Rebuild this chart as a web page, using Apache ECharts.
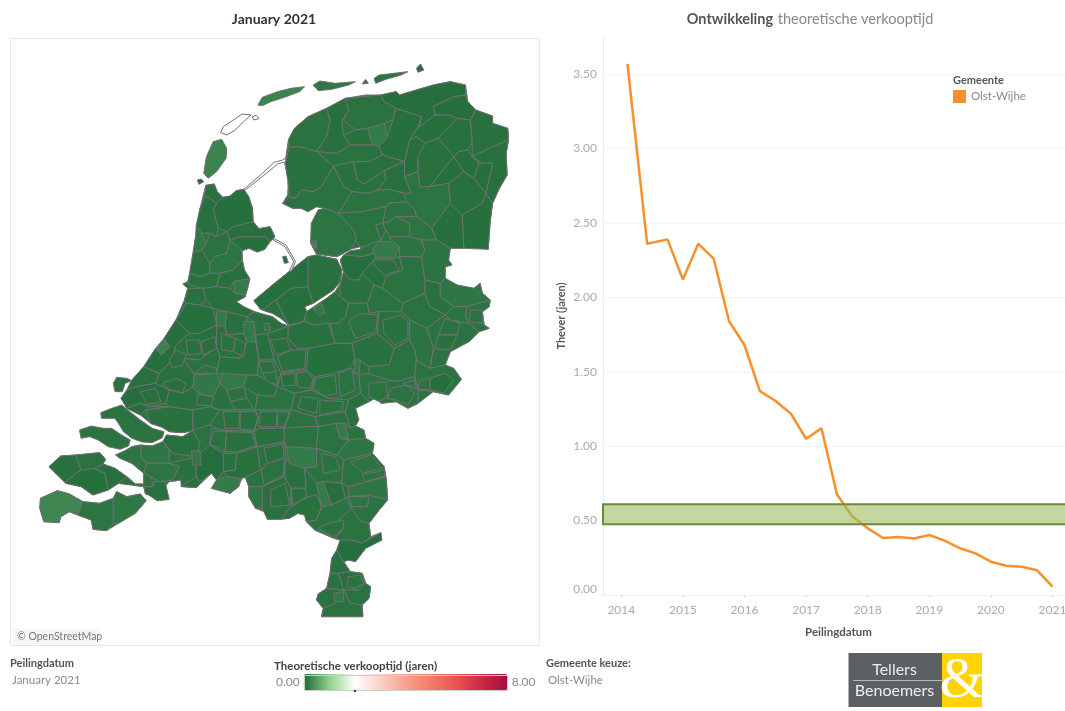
<!DOCTYPE html>
<html lang="nl">
<head>
<meta charset="UTF-8">
<title>Theoretische verkooptijd</title>
<script src="https://cdn.jsdelivr.net/npm/echarts@6/dist/echarts.min.js"></script>
<style>
  html, body { margin: 0; padding: 0; background: #fff; }
  /* the source is a soft screenshot */
  #chart { width: 1065px; height: 711px; filter: blur(0.4px); }
</style>
</head>
<body>
<div id="chart"></div>
<script>
// line chart: peildatum as decimal year, thever in jaren
var dates = [2014.1, 2014.42, 2014.75, 2015, 2015.25, 2015.5, 2015.75, 2016, 2016.25, 2016.5, 2016.75, 2017, 2017.25, 2017.5,
  2017.75, 2018, 2018.25, 2018.5, 2018.75, 2019, 2019.25, 2019.5, 2019.75, 2020, 2020.25, 2020.5, 2020.75, 2021];
var thever = [3.57, 2.36, 2.39, 2.12, 2.36, 2.26, 1.84, 1.68, 1.37, 1.305, 1.22, 1.05, 1.12, 0.677,
  0.527, 0.448, 0.383, 0.39, 0.38, 0.403, 0.365, 0.314, 0.28, 0.224, 0.197, 0.19, 0.166, 0.056];
var yearTicks = [2014, 2015, 2016, 2017, 2018, 2019, 2020, 2021];
var theverTicks = [0, 0.5, 1, 1.5, 2, 2.5, 3, 3.5];
var bandRange = [0.475, 0.61];

// map: traced outlines, x,y pairs in a 3x copy of the map panel (y down)
var regionShapes = [
  // land masses, drawn first
  '578,436 603,432 612,455 628,472 650,468 668,452 690,448 705,470 716,505 718,545 735,566 768,560 782,590 768,605 752,628 730,636 706,625 685,632 686,660 692,690 708,716 702,740 695,770 668,785 690,800 722,815 745,822 775,830 800,850 822,858 860,848 875,832 878,815 905,795 935,775 960,755 975,730 985,695 975,660 1000,642 1035,628 1035,620 1005,628 975,645 965,650 905,642 888,610 890,550 910,510 930,505 905,500 880,515 860,505 835,505 805,490 820,465 822,420 812,370 822,300 840,265 880,230 935,205 990,175 1050,165 1095,165 1140,155 1150,165 1200,150 1250,135 1300,125 1345,135 1352,185 1375,210 1425,228 1425,250 1470,265 1472,300 1465,340 1468,405 1445,445 1425,490 1418,545 1412,628 1390,620 1300,625 1295,660 1305,675 1285,680 1285,715 1320,735 1370,745 1388,730 1395,760 1418,780 1415,800 1395,815 1400,855 1415,865 1385,875 1355,905 1300,935 1285,975 1310,985 1333,1018 1295,1065 1250,1055 1205,1090 1175,1105 1140,1085 1095,1090 1085,1070 1060,1085 1020,1105 1030,1140 1020,1158 1045,1170 1050,1195 1075,1210 1070,1240 1105,1280 1112,1330 1115,1380 1090,1410 1060,1450 1065,1490 1095,1478 1098,1500 1050,1525 1020,1565 1000,1560 985,1565 1005,1595 1040,1600 1050,1630 1065,1640 1060,1675 1040,1695 1042,1730 920,1730 925,1705 905,1680 910,1662 935,1645 945,1600 950,1555 965,1530 975,1500 955,1495 900,1470 875,1445 870,1425 850,1420 825,1435 760,1438 750,1415 725,1405 705,1370 705,1340 695,1312 685,1315 675,1340 650,1360 595,1345 610,1320 595,1300 560,1325 550,1343 510,1340 505,1320 470,1325 458,1340 470,1378 435,1382 410,1365 400,1362 395,1340 360,1335 320,1330 290,1350 245,1365 210,1340 165,1330 115,1280 150,1248 195,1245 265,1238 282,1258 275,1272 310,1285 345,1310 370,1332 395,1332 395,1300 360,1270 325,1255 312,1245 340,1232 360,1220 385,1215 420,1218 452,1205 462,1185 510,1190 540,1172 510,1178 470,1175 450,1162 415,1150 385,1125 345,1105 328,1075 345,1050 360,1020 395,980 430,925 455,895 490,840 515,780 525,745 510,732 525,725 535,690 548,590 560,510',
  '720,782 775,735 830,690 880,650 905,645 965,658 980,690 975,725 955,750 925,770 895,790 870,800 878,820 865,845 822,855 800,835 775,820 740,808',
  '90,1375 140,1352 175,1362 215,1385 265,1390 305,1375 315,1355 345,1370 385,1362 402,1382 370,1420 320,1450 285,1472 245,1468 240,1440 200,1425 175,1415 150,1430 145,1448 100,1445 88,1405',
  '268,1118 300,1105 330,1095 350,1112 385,1140 420,1165 455,1175 450,1193 420,1208 390,1206 360,1195 335,1175 320,1150 310,1135 270,1135',
  '205,1170 240,1158 275,1165 300,1165 330,1185 355,1200 350,1218 325,1228 290,1220 260,1200 235,1190 210,1195',
  '305,1030 315,1012 345,1015 360,1022 340,1030 332,1055 310,1055',
  // waddeneilanden
  '572,400 580,350 600,305 625,298 640,325 638,355 610,395 585,415',
  '553,420 565,417 572,425 558,433',
  '732,195 745,172 790,155 830,145 870,140 855,155 810,172 770,185 745,197',
  '895,135 915,123 960,130 1020,125 1000,135 950,148 910,152',
  '1040,132 1050,118 1058,130',
  '1075,115 1090,105 1175,95 1155,105 1110,118 1080,130',
  '1200,85 1212,72 1222,90 1205,97',
  '805,650 815,648 822,668 810,670',
  // groningen, friesland
  '822,300 840,265 880,230 935,205 945,240 935,290 905,335 855,320 825,322',
  '935,205 990,175 1000,210 980,245 985,285 1005,315 965,340 905,335 935,290 945,240',
  '990,175 1095,165 1105,185 1140,205 1130,240 1105,250 1055,265 1020,270 985,240 1000,210',
  '1055,265 1105,250 1115,290 1090,320 1072,315',
  '985,285 1020,270 1055,265 1072,315 1005,315',
  '1090,320 1115,290 1130,240 1140,205 1215,230 1205,260 1180,300 1165,365 1100,345',
  '825,322 855,320 905,335 955,378 920,440 895,455 860,450 845,475 825,470 820,420 812,370',
  '905,335 965,340 1005,315 1072,315 1090,320 1100,345 1060,365 1015,365 955,378',
  '955,378 1015,365 1025,420 1045,432 1105,392 1110,420 1085,450 1060,460 1010,455 985,440',
  '1015,365 1060,365 1100,345 1165,365 1105,392 1045,432 1025,420',
  '805,490 825,470 845,475 860,450 895,455 920,440 955,378 985,440 1010,455 970,520 930,505 905,500 880,515 860,505 835,505',
  '1010,455 1060,460 1085,450 1120,448 1165,460 1170,485 1120,490 1110,500 1040,515 970,520',
  '1105,392 1165,365 1165,410 1185,460 1165,460 1120,448 1085,450 1110,420',
  '930,505 970,520 1015,570 1022,590 1020,605 1005,628 975,645 965,650 905,642 888,610 890,550 910,510',
  '888,603 905,603 905,625 895,625',
  '1140,155 1150,165 1200,150 1250,135 1300,125 1345,135 1345,165 1310,170 1250,200 1255,225 1210,260 1215,230 1140,205 1105,185 1095,165',
  '1345,165 1352,185 1375,210 1360,240 1320,235 1295,225 1255,225 1250,200 1310,170',
  '1255,225 1295,225 1320,235 1265,295 1225,310 1200,290 1180,300 1205,260 1210,260',
  '1320,235 1360,240 1365,310 1350,330 1325,335 1310,350 1265,295',
  '1360,240 1375,210 1425,228 1425,250 1470,265 1472,300 1415,325 1365,350 1365,310',
  // drenthe
  '1325,335 1350,330 1365,350 1385,370 1370,415 1340,395 1310,350',
  '1415,325 1472,300 1465,340 1468,405 1445,445 1425,490 1405,460 1425,370 1395,370 1365,350',
  '1395,370 1425,370 1405,460 1370,415 1385,370',
  '1180,300 1200,290 1225,310 1205,350 1205,395 1165,410 1165,365',
  '1225,310 1265,295 1310,350 1240,440 1210,440 1205,395 1205,350',
  '1310,350 1340,395 1295,430 1240,440',
  '1340,395 1370,415 1405,460 1395,490 1335,525 1300,490 1295,430',
  '1405,460 1425,490 1418,545 1412,628 1340,625 1335,525 1395,490',
  '1165,410 1205,395 1210,440 1240,440 1295,430 1300,490 1245,565 1215,540 1200,530 1195,510 1170,485 1165,460 1185,460',
  '1300,490 1335,525 1340,625 1300,625 1260,600 1245,565',
  '1120,490 1170,485 1195,510 1200,530 1140,530 1120,545 1100,550 1110,500',
  '1200,530 1215,540 1245,565 1260,600 1215,600 1180,590 1180,550 1140,530',
  '970,520 1040,515 1110,500 1100,550 1080,555 1095,600 1040,622 1020,605 1022,590 1015,570',
  '1080,555 1100,550 1110,570 1095,600',
  '1120,545 1140,530 1180,550 1180,590 1120,590 1110,570 1100,550',
  // overijssel
  '1070,625 1090,605 1130,605 1150,620 1135,655 1080,655',
  '1040,622 1095,600 1090,605 1070,625 1075,640 1040,650 985,645 1005,632 1035,628',
  '1150,620 1130,605 1120,590 1180,590 1215,600 1225,630 1215,650 1150,650',
  '1215,600 1260,600 1300,625 1295,660 1305,675 1285,680 1285,715 1270,730 1225,720 1215,650 1225,630',
  '985,645 1040,650 1075,640 1080,655 1040,700 1030,720 1005,720 985,695 975,660',
  '1080,655 1135,655 1150,650 1160,690 1110,710 1100,745 1075,735 1040,700',
  '1150,650 1215,650 1225,720 1225,760 1160,790 1100,745 1110,710 1160,690',
  '1285,715 1320,735 1370,745 1388,730 1395,760 1418,780 1350,800 1310,800 1270,770 1270,730',
  '1418,780 1415,800 1395,815 1400,855 1415,865 1385,875 1355,850 1345,830 1350,800',
  '1225,720 1270,730 1270,770 1310,800 1285,825 1240,800 1225,760',
  '1310,800 1350,800 1345,830 1355,850 1300,840 1285,825',
  '1385,875 1355,905 1300,935 1285,975 1240,985 1250,925 1230,865 1285,825 1300,840 1355,850',
  '1160,790 1225,760 1240,800 1285,825 1230,865 1180,840 1155,815',
  '1100,745 1160,790 1155,815 1090,815 1060,820 1055,790 1075,735',
  '985,695 1005,720 1030,720 1040,700 1075,735 1055,790 1000,790 975,770 975,730',
  // flevoland
  '880,650 905,645 965,658 980,690 975,725 955,750 925,770 895,790 880,740',
  '720,782 775,735 830,690 880,650 880,740 830,745 785,780 745,810 740,808',
  '785,780 830,745 880,740 895,790 870,800 878,820 865,845 822,855',
  '745,810 785,780 822,855 800,835 775,820',
  // gelderland
  '875,815 905,795 935,775 960,755 975,770 1000,790 990,830 970,850 940,850 895,855 870,845',
  '895,805 920,790 930,820 910,825',
  '990,830 1000,790 1055,790 1060,820 1090,815 1085,880 1010,910 960,910 945,850 970,850',
  '1090,815 1155,815 1180,840 1180,900 1135,925 1085,880',
  '1180,840 1230,865 1250,925 1240,985 1200,960 1195,930 1180,900',
  '880,925 960,910 1010,910 1020,965 1000,985 960,1000 900,1010 875,990',
  '1010,910 1085,880 1135,925 1120,975 1060,980 1030,960 1020,965',
  '1015,960 1035,960 1030,1005 1015,1000',
  '1135,925 1180,900 1195,930 1200,960 1195,1010 1140,1025 1100,1015 1060,1000 1060,980 1120,975',
  '1200,960 1240,985 1285,975 1310,985 1333,1018 1295,1065 1250,1055 1205,1050 1195,1010',
  '1060,1000 1100,1015 1140,1025 1195,1010 1205,1050 1205,1090 1175,1105 1140,1085 1095,1090 1085,1070 1060,1085 1035,1060 1030,1005',
  '822,858 870,845 895,855 940,850 960,910 880,925 850,925 820,895',
  '760,880 822,858 820,895 850,925 880,925 875,990 800,1000 780,960',
  // noord-holland
  '578,436 603,432 612,455 628,472 610,490 590,475 575,470',
  '628,472 650,468 668,452 690,448 705,470 716,505 718,545 660,560 640,575 615,565 600,510 610,490',
  '575,470 590,475 610,490 600,510 615,565 610,590 590,580 565,580 550,555 560,510',
  '550,555 565,580 580,610 565,630 540,640 548,590',
  '640,575 660,560 718,545 735,566 768,560 782,590 768,605 752,590 680,590 650,600',
  '680,590 752,590 768,605 752,628 730,636 706,625 685,632 650,600',
  '565,630 580,610 590,580 610,590 640,575 650,600 640,640 605,650 590,670',
  '590,670 605,650 640,640 650,600 685,632 686,660 660,690 620,700 590,700',
  '540,640 565,630 590,670 590,700 560,710 530,700',
  '620,700 660,690 686,660 692,690 708,716 660,725 650,745 610,740',
  '660,725 708,716 702,745 695,765 665,760',
  '530,700 560,710 590,700 620,700 610,740 570,745 535,735 525,725',
  '525,745 570,745 580,780 560,795 520,790 515,780',
  '570,745 610,740 650,745 665,760 695,765 695,770 668,785 690,800 722,815 700,830 640,815 600,805 580,780',
  '520,790 560,795 600,805 610,855 560,880 530,880 490,840',
  '610,815 640,815 635,860 610,855',
  '640,815 700,830 690,880 640,885 635,860',
  '690,845 720,845 725,905 700,905 690,880',
  '722,815 745,822 775,830 800,850 822,858 760,880 725,885 720,845 700,830',
  '750,850 765,850 768,870 752,872',
  // zuid-holland, utrecht
  '490,840 530,880 490,915 480,960 440,1000 395,980 430,925 447,945 472,920 455,895',
  '432,925 455,900 472,920 447,945',
  '395,980 440,1000 430,1030 375,1040 345,1050 360,1020',
  '530,880 560,880 610,855 610,920 560,960 510,955 480,960 490,915',
  '610,855 635,860 640,885 690,880 700,905 680,955 620,950 610,920',
  '440,1000 480,960 510,955 545,1005 540,1040 510,1060 470,1050 430,1030',
  '545,1005 610,1000 620,1030 600,1070 555,1060 540,1040',
  '375,1040 430,1030 470,1050 460,1090 410,1100 385,1090 345,1105 328,1075 345,1050',
  '510,955 560,960 610,920 620,950 610,1000 545,1005',
  '625,1000 700,1005 690,1040 640,1050 620,1030',
  '620,950 680,955 700,905 725,905 735,960 730,1005 700,1005 625,1000 610,1000',
  '400,1110 470,1100 540,1110 540,1172 510,1178 470,1175 450,1162 415,1150',
  '345,1105 385,1090 410,1100 470,1100 400,1110 385,1125',
  '470,1050 510,1060 540,1040 555,1060 600,1070 590,1100 540,1110 470,1100 460,1090',
  '600,1070 620,1030 640,1050 690,1040 730,1065 725,1110 620,1110 590,1100',
  '540,1110 590,1100 620,1110 600,1150 545,1170 540,1172',
  '725,885 760,880 780,960 735,960',
  '735,960 780,960 800,1000 790,1040 730,1005',
  '730,1005 790,1040 780,1070 730,1065 690,1040 700,1005',
  '800,1000 875,990 900,1010 890,1050 840,1060 790,1040',
  '790,1040 840,1060 830,1110 725,1110 730,1065 780,1070',
  '900,1010 960,1000 1000,985 1020,965 1015,1000 1030,1005 1035,1060 1000,1080 940,1075 890,1050',
  '840,1060 890,1050 940,1075 1000,1080 990,1115 900,1130 830,1110',
  '620,1110 725,1110 735,1135 720,1175 625,1170 590,1155',
  '725,1110 830,1110 810,1165 735,1165 720,1175 735,1135',
  '830,1110 900,1130 910,1160 885,1160 810,1165',
  '900,1130 990,1115 1005,1165 990,1150 962,1150 910,1160',
  '990,1115 1000,1080 1035,1060 1060,1085 1020,1105 1030,1140 1020,1158 1005,1165',
  // noord-brabant, limburg
  '462,1185 510,1190 540,1172 560,1210 550,1250 480,1240 452,1205',
  '385,1215 420,1218 452,1205 470,1230 470,1270 405,1270 388,1255',
  '340,1232 360,1220 385,1215 388,1255 405,1270 395,1300 360,1270 325,1255 312,1245',
  '405,1270 470,1270 500,1280 480,1320 440,1325 415,1310 395,1300',
  '395,1300 415,1310 425,1340 395,1340 395,1332',
  '425,1325 458,1325 470,1378 435,1382 410,1365 400,1362 395,1340 425,1340',
  '470,1270 550,1250 550,1310 505,1340 505,1320 470,1325 480,1320 500,1280',
  '505,1340 550,1310 560,1325 585,1300 595,1300 550,1343 510,1340',
  '550,1250 590,1215 630,1240 630,1295 610,1320 595,1300 560,1325 550,1310',
  '535,1232 560,1232 565,1275 540,1275',
  '590,1215 595,1165 620,1170 720,1175 730,1220 670,1240 630,1240',
  '630,1240 670,1240 665,1290 630,1295',
  '610,1320 640,1310 680,1315 675,1340 650,1360 595,1345',
  '670,1240 730,1220 740,1290 695,1312 680,1315 640,1310 630,1295 665,1290',
  '730,1220 810,1205 815,1255 810,1310 745,1340 705,1340 695,1312 740,1290',
  '705,1340 745,1340 745,1405 725,1405 705,1370',
  '745,1340 810,1310 830,1345 830,1400 800,1438 760,1438 750,1415 745,1405',
  '720,1175 735,1165 810,1165 810,1205 730,1220',
  '815,1220 905,1225 905,1280 870,1285 825,1270',
  '810,1165 885,1160 910,1160 905,1225 815,1220 810,1205',
  '910,1160 962,1150 975,1195 1000,1200 965,1245 905,1225',
  '962,1150 990,1150 1000,1195 975,1195',
  '1005,1165 1020,1158 1045,1170 1050,1195 1000,1200 990,1150',
  '965,1245 1000,1200 1050,1195 1075,1210 1070,1240 985,1260',
  '905,1280 905,1225 965,1245 985,1260 980,1330 925,1325 905,1330 870,1285',
  '985,1260 1070,1240 1105,1280 1110,1310 1000,1340 980,1330',
  '1000,1340 1110,1310 1112,1330 1115,1380 1060,1365 1000,1370',
  '810,1310 815,1255 825,1270 870,1285 875,1345 830,1345',
  '870,1285 905,1330 920,1400 905,1365 880,1370 830,1400 830,1345 875,1345',
  '905,1330 925,1325 950,1395 920,1400',
  '925,1325 980,1330 990,1375 950,1395',
  '990,1375 1000,1370 1060,1365 1115,1380 1090,1410 1060,1450 1035,1445 1010,1405',
  '830,1400 880,1370 905,1365 920,1400 905,1440 875,1445 870,1425 850,1420 825,1435 800,1438',
  '905,1440 920,1400 950,1395 990,1375 1010,1405 975,1435 985,1465 960,1495 900,1470 875,1445',
  '985,1465 975,1435 1010,1405 1035,1445 1060,1450 1065,1490 1040,1510 1010,1500 975,1500 960,1495',
  '975,1500 1010,1500 1040,1510 1095,1478 1098,1500 1050,1525 1020,1565 1000,1560 985,1565 965,1530',
  '950,1555 965,1530 985,1565 1005,1595 970,1600 945,1600',
  '945,1600 970,1600 985,1650 935,1645',
  '970,1600 1005,1595 1040,1600 1050,1630 1030,1650 985,1650',
  '1030,1650 1050,1630 1065,1640 1060,1675 1040,1695 1005,1690 985,1650',
  '935,1645 985,1650 960,1690 925,1705 905,1680 910,1662',
  '925,1705 960,1690 985,1650 1005,1690 1040,1695 1042,1730 920,1730',
  '955,1660 985,1655 985,1685 960,1685',
  // zeeland
  '115,1280 150,1248 195,1245 210,1290 170,1320 165,1330',
  '195,1245 265,1238 282,1258 275,1272 250,1285 210,1290',
  '170,1320 210,1290 250,1285 280,1300 290,1350 245,1365 210,1340 165,1330',
  '275,1272 310,1285 345,1310 320,1330 290,1350 280,1300 250,1285',
  '320,1330 345,1310 370,1332 395,1332 395,1340 360,1335',
  '90,1375 140,1352 175,1362 215,1385 200,1425 175,1415 150,1430 145,1448 100,1445 88,1405',
  '215,1385 265,1390 305,1375 305,1450 285,1472 245,1468 240,1440 200,1425',
  '305,1375 315,1355 345,1370 385,1362 402,1382 370,1420 320,1450 305,1450',
  // kleine gemeenten in de dichtbevolkte delen
  '470,960 490,930 520,945 510,975 480,985',
  '520,900 560,900 565,940 525,945',
  '565,905 605,890 610,925 570,945',
  '625,880 665,895 660,935 625,930',
  '665,895 695,910 690,950 660,935',
  '545,1000 575,975 610,985 608,1000',
  '450,1030 490,1015 520,1030 510,1058 470,1048',
  '385,1055 430,1045 445,1085 405,1095',
  '555,1062 600,1072 595,1098 550,1095',
  '640,1050 690,1040 700,1075 650,1085',
  '650,1085 700,1075 720,1108 665,1108',
  '735,965 775,965 785,995 745,1000',
  '745,1000 785,995 790,1035 760,1025',
  '800,1005 840,1000 845,1035 805,1038',
  '845,1000 878,995 895,1015 885,1045 850,1040',
  '770,900 815,895 830,930 785,945',
  '830,930 875,930 870,985 805,995 790,950',
  '905,1015 960,1005 965,1060 930,1068 895,1045',
  '970,1000 1010,985 1020,1050 975,1070',
  '860,1070 910,1075 905,1120 850,1105',
  '915,1080 985,1085 980,1112 915,1125',
  '740,1115 790,1115 785,1160 735,1160',
  '790,1115 825,1115 810,1160 790,1160',
  '630,1115 680,1115 675,1165 635,1165',
  '680,1115 725,1115 732,1135 720,1170 680,1168',
  '600,1175 640,1175 635,1235 590,1212',
  '640,1175 715,1178 725,1218 668,1236 635,1235',
  '750,1225 805,1212 810,1255 760,1270',
  '760,1270 810,1255 808,1305 750,1335 742,1290',
  '830,1345 872,1345 876,1370 835,1395',
  '770,1350 812,1330 826,1395 770,1400',
  '1005,1265 1065,1245 1098,1285 1040,1300',
  '1040,1305 1105,1290 1108,1308 1050,1325',
  '920,1240 960,1250 975,1290 925,1300',
  '1000,1370 1060,1370 1055,1400 1010,1400',
  '940,1450 985,1440 985,1465 955,1490 910,1465',
  '1000,1610 1035,1605 1045,1630 1020,1645 995,1640',
  '1125,1045 1170,1035 1195,1060 1175,1095 1140,1080 1115,1075',
  '1060,1030 1110,1025 1115,1070 1090,1085 1060,1070',
  '1160,1030 1195,1020 1200,1048 1170,1035',
  '1240,1015 1285,1000 1310,1020 1280,1060 1240,1050',
  '1210,1020 1240,1015 1240,1050 1205,1048',
  '1285,835 1330,850 1320,885 1265,885',
  '1265,885 1320,885 1300,930 1255,925',
  '1360,810 1393,810 1395,850 1355,845',
  '1100,840 1155,825 1175,845 1175,895 1135,915 1105,880',
  '1030,820 1085,825 1080,875 1020,895 1000,845',
  '1070,660 1130,660 1150,690 1105,705 1080,680',
  // geen cijfer: vlieland en de dijken
  '622,278 630,260 660,240 685,222 712,225 690,245 665,270 640,285',
  '715,230 728,226 735,236 720,240',
  '690,448 740,405 780,367 805,360 812,355 815,365 790,372 745,410 695,450',
  '778,595 815,615 843,665 830,695 826,690 838,665 812,620 778,600'
];
var regionValues = [
  0.12, 0.12, 0.13, 0.13, 0.13, 0.12,
  0.28, 0.1, 0.28, 0.16, 0.1, 0.14, 0.08, 0.08,
  0.12, 0.1, 0.12, 0.2, 0.11, 0.09, 0.11, 0.12, 0.11, 0.1, 0.12, 0.13, 0.1, 0.14, 0.3, 0.08, 0.09, 0.09, 0.1, 0.1,
  0.09, 0.1, 0.09, 0.09, 0.1, 0.09, 0.1, 0.09, 0.14, 0.09, 0.13, 0.14, 0.12, 0.11, 0.13,
  0.2, 0.12, 0.13, 0.13, 0.08, 0.09, 0.12, 0.16, 0.13, 0.11, 0.13, 0.13, 0.12, 0.12, 0.11,
  0.1, 0.09, 0.09, 0.1,
  0.11, 0.18, 0.12, 0.1, 0.13, 0.09, 0.11, 0.2, 0.12, 0.13, 0.13, 0.1, 0.1,
  0.12, 0.09, 0.1, 0.17, 0.1, 0.09, 0.12, 0.14, 0.11, 0.1, 0.2, 0.11, 0.11, 0.1, 0.09, 0.18, 0.1, 0.18, 0.11, 0.16,
  0.09, 0.26, 0.1, 0.1, 0.11, 0.1, 0.17, 0.08, 0.11, 0.18, 0.11, 0.11, 0.09, 0.1, 0.11, 0.11, 0.1, 0.12, 0.11, 0.11, 0.12, 0.12, 0.11, 0.11, 0.1, 0.12, 0.11, 0.1,
  0.1, 0.16, 0.15, 0.15, 0.13, 0.1, 0.11, 0.11, 0.07, 0.18, 0.1, 0.11, 0.2, 0.1, 0.12, 0.16, 0.11, 0.1, 0.2, 0.12, 0.13, 0.2, 0.12, 0.15, 0.13, 0.12, 0.16, 0.1, 0.11, 0.2, 0.09, 0.13, 0.11, 0.13, 0.12, 0.08, 0.11, 0.12, 0.11, 0.12, 0.12, 0.12, 0.18,
  0.1, 0.12, 0.09, 0.1, 0.12, 0.3, 0.14, 0.17,
  0.1, 0.11, 0.1, 0.12, 0.11, 0.13, 0.1, 0.09, 0.11, 0.12, 0.1, 0.11, 0.12, 0.1, 0.11, 0.1, 0.11, 0.12, 0.13, 0.11, 0.12, 0.1, 0.12, 0.11, 0.1, 0.12, 0.11, 0.1, 0.12, 0.11, 0.1, 0.14, 0.13, 0.12, 0.14, 0.11, 0.12, 0.13, 0.12, 0.14, 0.09, 0.13, 0.13, 0.11, 0.12, 0.11, 0.12, 0.1
];
var regionNames = regionShapes.map(function (s, i) { return 'gem' + i; });

// kleurenschaal 0 t/m 8 jaar, een kleur per jaar
var scaleColors = ['#1c6637', '#8fd08a', '#ffffff', '#fcd0c8', '#f9a08f', '#f47a68', '#e8524f', '#c92a45', '#a50f3c'];

var FONT = 'Lato, "Open Sans", sans-serif';

function toGeoJson() {
  var features = regionShapes.map(function (shape, i) {
    var ring = shape.split(' ').map(function (p) {
      var xy = p.split(',');
      return [+xy[0], -xy[1]];
    });
    ring.push(ring[0]);
    return {
      type: 'Feature',
      properties: { name: regionNames[i] },
      geometry: { type: 'Polygon', coordinates: [ring] }
    };
  });
  return { type: 'FeatureCollection', features: features };
}

echarts.registerMap('nl', toGeoJson());

var chart = echarts.init(document.getElementById('chart'));

function label(x, y, text, color, size, weight, align) {
  return {
    type: 'text', x: x, y: y, silent: true, z: 20,
    style: {
      text: text, fill: color, fontSize: size, fontFamily: FONT,
      fontWeight: weight || 'normal', align: align || 'left', verticalAlign: 'middle'
    }
  };
}

var mapData = regionValues.map(function (v, i) {
  return { name: regionNames[i], value: v };
});

var option = {
  animation: false,
  backgroundColor: '#fff',
  title: [
    { text: 'January 2021', left: 269, top: 6, textAlign: 'center',
      textStyle: { fontFamily: FONT, fontSize: 14, fontWeight: 'bold', color: '#333', lineHeight: 16 } },
    { text: '{b|Ontwikkeling} {n|theoretische verkooptijd}', left: 805, top: 5, textAlign: 'center',
      textStyle: { fontFamily: FONT, fontWeight: 'normal', rich: {
        b: { fontFamily: FONT, fontSize: 14.5, fontWeight: 'bold', color: '#555' },
        n: { fontFamily: FONT, fontSize: 14.5, fontWeight: 'normal', color: '#888' }
      } } }
  ],
  grid: { left: 603, width: 471, top: 37, bottom: 116, outerBoundsMode: 'none' },
  xAxis: {
    type: 'value', min: 2013.703, max: 2021.349,
    name: 'Peilingdatum', nameLocation: 'middle', nameGap: 31,
    nameTextStyle: { fontFamily: FONT, fontSize: 11.5, fontWeight: 'bold', color: '#555' },
    axisLine: { lineStyle: { color: '#eee' } },
    axisTick: { customValues: yearTicks, length: 3, lineStyle: { color: '#ddd' } },
    axisLabel: { customValues: yearTicks, margin: 9, fontFamily: FONT, fontSize: 12, color: '#aaa',
      formatter: function (v) { return String(v); } },
    splitLine: { show: false }
  },
  yAxis: {
    type: 'value', min: 0, max: 3.75,
    name: 'Thever (jaren)', nameLocation: 'middle', nameGap: 36, nameRotate: 90,
    nameTextStyle: { fontFamily: FONT, fontSize: 11, fontWeight: 'bold', color: '#555' },
    axisLine: { show: true, lineStyle: { color: '#eee' } },
    axisTick: { show: false, customValues: theverTicks },
    axisLabel: { customValues: theverTicks, margin: 6, fontFamily: FONT, fontSize: 12, color: '#aaa',
      verticalAlignMinLabel: 'bottom',
      formatter: function (v) { return v.toFixed(2); } },
    splitLine: { show: true, lineStyle: { color: '#f3f3f3' } }
  },
  legend: {
    data: ['Olst-Wijhe'], left: 948, top: 85, icon: 'rect', itemWidth: 13, itemHeight: 13, itemGap: 0,
    selectedMode: false, textStyle: { fontFamily: FONT, fontSize: 11.5, color: '#888' }
  },
  visualMap: {
    type: 'continuous', seriesIndex: 0, min: 0, max: 8, orient: 'horizontal',
    left: 261, top: 659, itemWidth: 16, itemHeight: 204, text: ['8.00', '0.00'], textGap: 4,
    calculable: false, hoverLink: false, realtime: false,
    textStyle: { fontFamily: FONT, fontSize: 12, color: '#888' },
    inRange: { color: scaleColors }
  },
  series: [
    {
      type: 'map', map: 'nl', data: mapData, aspectScale: 1.016, silent: true, selectedMode: false, roam: false,
      showLegendSymbol: false,
      boundingCoords: [[0, 0], [1565, -1815]], left: 10, top: 40, width: 530, height: 605,
      label: { show: false }, emphasis: { disabled: true },
      itemStyle: { areaColor: '#fff', borderColor: '#707070', borderWidth: 1 }
    },
    {
      type: 'line', name: 'Olst-Wijhe', data: dates.map(function (d, i) { return [d, thever[i]]; }),
      showSymbol: false, symbol: 'none', smooth: false,
      itemStyle: { color: '#f5902a' }, lineStyle: { color: '#f5902a', width: 2.5 },
      markArea: {
        silent: true, z: 5,
        itemStyle: { color: 'rgba(158,187,97,0.6)', borderColor: '#6b8a3a', borderWidth: 2 },
        data: [[{ xAxis: 2013.703, yAxis: bandRange[1] }, { xAxis: 2021.349, yAxis: bandRange[0] }]]
      }
    }
  ],
  graphic: [
    { type: 'rect', silent: true, shape: { x: 10.5, y: 38.5, width: 529, height: 607 },
      style: { fill: 'none', stroke: '#e6e6e6', lineWidth: 1 } },
    { type: 'rect', silent: true, shape: { x: 13, y: 629, width: 87, height: 15 }, style: { fill: '#f6f6f6' } },
    label(17, 636.5, '© OpenStreetMap', '#777', 10.5),
    label(953, 80, 'Gemeente', '#555', 11, 'bold'),
    label(10, 663, 'Peilingdatum', '#555', 11, 'bold'),
    label(12, 680, 'January 2021', '#888', 11.5),
    label(274, 666, 'Theoretische verkooptijd (jaren)', '#444', 11.5, 'bold'),
    { type: 'rect', silent: true, z: 20, shape: { x: 304.5, y: 675.5, width: 203, height: 15 },
      style: { fill: 'none', stroke: '#ccc', lineWidth: 1 } },
    { type: 'circle', silent: true, z: 20, shape: { cx: 355, cy: 691, r: 1.3 }, style: { fill: '#444' } },
    label(546, 663, 'Gemeente keuze:', '#555', 11, 'bold'),
    label(548, 680, 'Olst-Wijhe', '#888', 11.5),
    // logo
    { type: 'rect', silent: true, shape: { x: 848.5, y: 653, width: 93.5, height: 54 }, style: { fill: '#5d6062' } },
    { type: 'rect', silent: true, shape: { x: 942, y: 653, width: 40, height: 54 }, style: { fill: '#ffd400' } },
    { type: 'rect', silent: true, z: 19, shape: { x: 853, y: 680, width: 100, height: 1 }, style: { fill: '#b9bcbd' } },
    label(894.5, 670, 'Tellers', '#eee', 16, 'normal', 'center'),
    label(894.5, 691, 'Benoemers', '#eee', 16, 'normal', 'center'),
    {
      type: 'text', x: 962, y: 682, silent: true, z: 21,
      style: { text: '&', fill: '#fff', fontSize: 58, fontFamily: '"Liberation Serif", serif', align: 'center', verticalAlign: 'middle',
        shadowColor: 'rgba(0,0,0,0.6)', shadowBlur: 1, shadowOffsetX: 1, shadowOffsetY: 1 }
    }
  ]
};
chart.setOption(option);
</script>
</body>
</html>
